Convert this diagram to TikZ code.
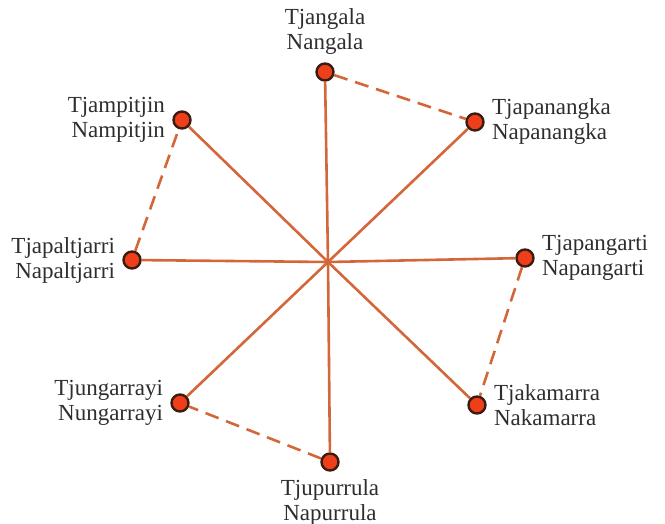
\documentclass[tikz,border=0pt]{standalone}
\usepackage{fontspec}
\setmainfont{Liberation Serif}
\usetikzlibrary{positioning}
\definecolor{spokecol}{HTML}{D4673A}
\definecolor{dotfill}{HTML}{EE3F1A}
\definecolor{dotrim}{HTML}{3A1C12}

\begin{document}
\begin{tikzpicture}[x=0.5pt,y=-0.5pt,
    skin/.style={circle,draw=dotrim,fill=dotfill,line width=1.2pt,
      minimum size=8.5pt,inner sep=0pt},
    tag/.style={font=\fontsize{11.5}{12.5}\selectfont,text=black!82,
      inner sep=2pt,label distance=1.5pt},
    link/.style={draw=spokecol,line width=1.3pt},
    kin/.style={link,dash pattern=on 7pt off 4pt}
  ]
    \useasboundingbox (0,0) rectangle (665,524);
    \coordinate (hub) at (328,262);
    % the eight subsections
    \node[skin,label={[tag,align=center]above:Tjangala\\Nangala}] (tjangala) at (325,72) {};
    \node[skin,label={[tag,align=left]right:Tjapanangka\\Napanangka}] (tjapanangka) at (475,122) {};
    \node[skin,label={[tag,align=left]right:Tjapangarti\\Napangarti}] (tjapangarti) at (525,258) {};
    \node[skin,label={[tag,align=left]right:Tjakamarra\\Nakamarra}] (tjakamarra) at (477,405) {};
    \node[skin,label={[tag,align=center]below:Tjupurrula\\Napurrula}] (tjupurrula) at (330,462) {};
    \node[skin,label={[tag,align=right]left:Tjungarrayi\\Nungarrayi}] (tjungarrayi) at (180,403) {};
    \node[skin,label={[tag,align=right]left:Tjapaltjarri\\Napaltjarri}] (tjapaltjarri) at (132,260) {};
    \node[skin,label={[tag,align=right]left:Tjampitjin\\Nampitjin}] (tjampitjin) at (182,120) {};
    % spokes
    \foreach \n in {tjangala,tjapanangka,tjapangarti,tjakamarra,
                    tjupurrula,tjungarrayi,tjapaltjarri,tjampitjin}
      \draw[link] (hub) -- (\n);
    % dashed pairs
    \draw[kin] (tjangala) -- (tjapanangka);
    \draw[kin] (tjapangarti) -- (tjakamarra);
    \draw[kin] (tjupurrula) -- (tjungarrayi);
    \draw[kin] (tjapaltjarri) -- (tjampitjin);
  \end{tikzpicture}
\end{document}
